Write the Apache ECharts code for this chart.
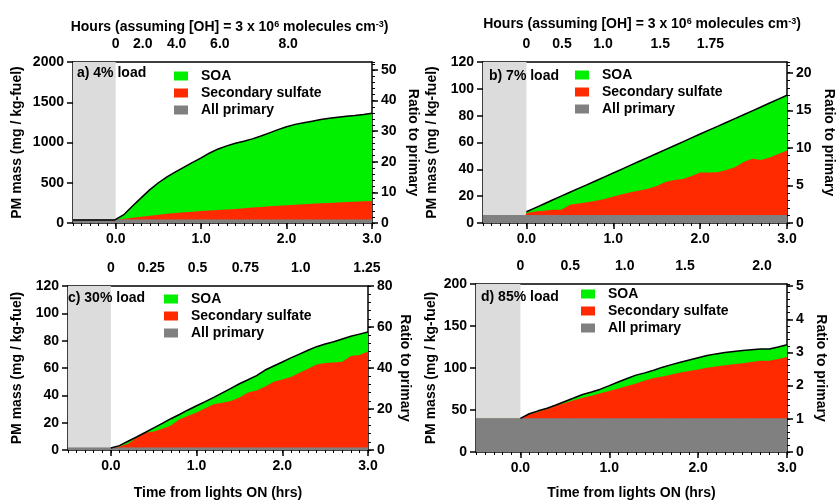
<!DOCTYPE html>
<html>
<head>
<meta charset="utf-8">
<script src="https://cdn.jsdelivr.net/npm/echarts@6/dist/echarts.min.js"></script>
<style>
  html, body { margin: 0; padding: 0; background: #fff; }
  #chart { width: 837px; height: 502px; }
</style>
</head>
<body>
<div id="chart"></div>
<script>
// time from lights ON (hrs), shared by all panels (lights switch on at 0)
const times = [-0.5, -0.01, 0.0, 0.1, 0.2, 0.3, 0.4, 0.5, 0.6, 0.7, 0.8, 0.9, 1.0, 1.1, 1.2, 1.3, 1.4, 1.5,
  1.6, 1.7, 1.8, 1.9, 2.0, 2.1, 2.2, 2.3, 2.4, 2.5, 2.6, 2.7, 2.8, 2.9, 3.0];
const timeTicks = [0, 1, 2, 3];

// a) 4% load
const aPrimary = 38;
const aSulfate = [0, 0, 5, 15, 28, 40, 52, 64, 76, 86, 95, 103, 110, 118, 125, 131, 137, 145,
  153, 161, 170, 177, 183, 188, 194, 200, 206, 212, 218, 222, 226, 232, 236];
const aSoa = [0, 0, 3, 55, 148, 237, 325, 398, 458, 511, 562, 612, 660, 714, 757, 789, 815, 832,
  854, 881, 912, 945, 974, 999, 1013, 1027, 1041, 1050, 1057, 1065, 1071, 1078, 1088];
const aMassMax = 2000;
const aRatioTicks = [0, 10, 20, 30, 40, 50];
const aHourPos = [0, 0.316, 0.713, 1.219, 2.018];
const aHourLbl = ['0', '2.0', '4.0', '6.0', '8.0'];

// b) 7% load
const bPrimary = 5.6;
const bSulfate = [0, 0, 1.8, 2.9, 3.6, 4.3, 4.3, 8.0, 9.0, 9.8, 10.9, 12.2, 14.2, 15.9, 17.4, 18.6, 19.9, 21.9,
  24.9, 26.4, 27.2, 29.4, 32.1, 32.1, 32.2, 33.9, 35.9, 39.9, 42.2, 41.4, 43.3, 45.9, 48.5];
const bSoa = [0, 0, 1.0, 2.8, 5.0, 7.2, 10.1, 9.3, 11.2, 13.2, 15.0, 16.6, 17.5, 18.7, 20.1, 21.8, 23.4, 24.3,
  24.2, 25.6, 27.7, 28.4, 28.6, 31.5, 34.2, 35.4, 36.3, 35.2, 35.8, 39.5, 40.5, 40.8, 41.1];
const bMassMax = 120;
const bRatioTicks = [0, 5, 10, 15, 20];
const bHourPos = [0, 0.41, 0.881, 1.54, 2.119];
const bHourLbl = ['0', '0.5', '1.0', '1.5', '1.75'];

// c) 30% load
const cPrimary = 1.5;
const cSulfate = [0, 0, 0, 1.0, 3.0, 7.5, 11.1, 12.0, 14.0, 16.5, 21.0, 23.5, 26.0, 29.0, 31.9, 33.0, 34.3, 37.0,
  40.5, 42.0, 45.0, 48.5, 50.1, 52.0, 55.0, 58.0, 61.0, 62.1, 62.5, 63.0, 67.3, 68.0, 70.5];
const cSoa = [0, 0, 0, 0.7, 1.9, 0.5, 0.2, 2.7, 4.0, 4.9, 3.5, 4.3, 4.9, 4.9, 5.1, 7.3, 9.3, 10.0,
  9.4, 10.9, 12.0, 11.5, 12.8, 13.9, 13.7, 13.5, 13.1, 14.0, 15.2, 16.7, 14.4, 15.3, 14.4];
const cMassMax = 120;
const cRatioTicks = [0, 20, 40, 60, 80];
const cHourPos = [0, 0.47, 1.012, 1.569, 2.216, 2.988];
const cHourLbl = ['0', '0.25', '0.5', '0.75', '1.0', '1.25'];

// d) 85% load
const dPrimary = 39.5;
const dSulfate = [0, 0, 0.5, 5.0, 8.5, 11.8, 15.5, 18.8, 22.0, 25.0, 27.5, 30.3, 33.0, 36.0, 39.0, 42.0, 45.5, 48.5,
  50.5, 52.8, 55.0, 57.0, 58.8, 60.8, 62.3, 63.8, 65.1, 66.3, 67.6, 69.2, 69.0, 71.3, 73.5];
const dSoa = [0, 0, 0, 1.0, 1.0, 0.7, 1.0, 1.9, 2.8, 4.0, 4.5, 5.0, 6.5, 7.8, 9.0, 10.0, 9.2, 9.3,
  11.0, 11.7, 12.3, 13.0, 13.9, 14.5, 15.0, 15.1, 15.1, 15.0, 14.7, 14.0, 14.0, 14.2, 14.7];
const dMassMax = 200;
const dRatioTicks = [0, 1, 2, 3, 4, 5];
const dHourPos = [0, 0.561, 1.174, 1.852, 2.718];
const dHourLbl = ['0', '0.5', '1.0', '1.5', '2.0'];

const FONT = '"Liberation Sans", Arial, sans-serif';
const GREEN = '#00f000', RED = '#ff2a00', GRAY = '#808080', SHADE = '#dcdcdc';
const HOURS_TITLE = 'Hours (assuming [OH] = 3 x 10{sup|6} molecules cm{sup|-3})';

const panels = [
  { tag: 'a) 4% load', primary: aPrimary, sulfate: aSulfate, soa: aSoa, massMax: aMassMax, massInt: 500,
    ratioTicks: aRatioTicks, ratioMinor: 2, hourPos: aHourPos, hourLbl: aHourLbl, lineFrom: 0,
    box: [73, 62, 299, 161], tagPos: [77, 66], legendPos: [174, 69],
    leftGap: 49, rightGap: 34, topName: true, topGap: 28, bottomName: false },
  { tag: 'b) 7% load', primary: bPrimary, sulfate: bSulfate, soa: bSoa, massMax: bMassMax, massInt: 20,
    ratioTicks: bRatioTicks, ratioMinor: 1, hourPos: bHourPos, hourLbl: bHourLbl, lineFrom: 2,
    box: [483, 62, 305, 161], tagPos: [489, 69], legendPos: [575, 68],
    leftGap: 44, rightGap: 35, topName: true, topGap: 31, bottomName: false },
  { tag: 'c) 30% load', primary: cPrimary, sulfate: cSulfate, soa: cSoa, massMax: cMassMax, massInt: 20,
    ratioTicks: cRatioTicks, ratioMinor: 4, hourPos: cHourPos, hourLbl: cHourLbl, lineFrom: 2,
    box: [68, 286, 300, 164], tagPos: [68, 291], legendPos: [164, 292],
    leftGap: 44, rightGap: 30, topName: false, bottomName: true, bottomGap: 36 },
  { tag: 'd) 85% load', primary: dPrimary, sulfate: dSulfate, soa: dSoa, massMax: dMassMax, massInt: 50,
    ratioTicks: dRatioTicks, ratioMinor: 0.2, hourPos: dHourPos, hourLbl: dHourLbl, lineFrom: 2,
    box: [476, 284, 311, 168], tagPos: [481, 290], legendPos: [581, 287],
    leftGap: 38, rightGap: 27, topName: false, bottomName: true, bottomGap: 34 }
];

const txt = { color: '#000', fontFamily: FONT, fontWeight: 'bold', fontSize: 14 };
const axLine = { show: true, onZero: false, lineStyle: { color: '#000', width: 1.5 } };

const grids = [], xAxes = [], yAxes = [], series = [], legends = [], titles = [];

panels.forEach(function (p, i) {
  const ratioMax = p.massMax / p.primary;
  grids.push({ left: p.box[0], top: p.box[1], width: p.box[2], height: p.box[3] });

  // bottom time axis (major ticks + labels)
  xAxes.push({
    type: 'value', gridIndex: i, position: 'bottom', min: -0.5, max: 3,
    axisLine: axLine,
    axisTick: { customValues: timeTicks, length: 6, lineStyle: { color: '#000', width: 1.5 } },
    axisLabel: Object.assign({ customValues: timeTicks, margin: 9, formatter: v => v.toFixed(1) }, txt),
    splitLine: { show: false },
    name: p.bottomName ? 'Time from lights ON (hrs)' : '', nameLocation: 'middle',
    nameGap: p.bottomGap || 30, nameTextStyle: txt
  });
  // minor time ticks
  xAxes.push({
    type: 'value', gridIndex: i, position: 'bottom', min: -0.5, max: 3, interval: 0.1,
    axisLine: { show: false, onZero: false },
    axisTick: { length: 3, lineStyle: { color: '#000', width: 1 } },
    axisLabel: { show: false }, splitLine: { show: false }
  });
  // top OH-exposure hours axis
  xAxes.push({
    type: 'value', gridIndex: i, position: 'top', min: -0.5, max: 3,
    axisLine: axLine, axisTick: { show: false },
    axisLabel: Object.assign({
      customValues: p.hourPos, margin: 11,
      formatter: function (v) {
        for (let k = 0; k < p.hourPos.length; k++) {
          if (Math.abs(p.hourPos[k] - v) < 1e-6) return p.hourLbl[k];
        }
        return '';
      }
    }, txt),
    splitLine: { show: false },
    name: p.topName ? HOURS_TITLE : '', nameLocation: 'middle', nameGap: p.topGap || 30,
    nameTextStyle: Object.assign({
      padding: [0, 0, 0, 14],
      rich: { sup: { fontSize: 9, fontWeight: 'bold', fontFamily: FONT, color: '#000', verticalAlign: 'top', lineHeight: 9 } }
    }, txt)
  });

  // left mass axis
  yAxes.push({
    type: 'value', gridIndex: i, position: 'left', min: 0, max: p.massMax, interval: p.massInt,
    axisLine: axLine,
    axisTick: { length: 6, lineStyle: { color: '#000', width: 1.5 } },
    axisLabel: Object.assign({ margin: 9, formatter: v => String(v) }, txt),
    splitLine: { show: false },
    name: 'PM mass (mg / kg-fuel)', nameLocation: 'middle', nameGap: p.leftGap, nameTextStyle: txt
  });
  // right ratio axis
  yAxes.push({
    type: 'value', gridIndex: i, position: 'right', min: 0, max: ratioMax,
    axisLine: axLine,
    axisTick: { customValues: p.ratioTicks, length: 6, lineStyle: { color: '#000', width: 1.5 } },
    axisLabel: Object.assign({ customValues: p.ratioTicks, margin: 9, formatter: v => String(v) }, txt),
    splitLine: { show: false },
    name: 'Ratio to primary', nameLocation: 'middle', nameRotate: -90, nameGap: p.rightGap, nameTextStyle: txt
  });
  // right minor ticks
  yAxes.push({
    type: 'value', gridIndex: i, position: 'right', min: 0, max: ratioMax, interval: p.ratioMinor,
    axisLine: { show: false, onZero: false },
    axisTick: { length: 3, lineStyle: { color: '#000', width: 1 } },
    axisLabel: { show: false }, splitLine: { show: false }
  });

  // cumulative levels: primary, primary + sulfate, primary + sulfate + SOA
  const lvlPrim = times.map(t => [t, p.primary]);
  const lvlSulf = times.map((t, k) => [t, p.primary + p.sulfate[k]]);
  const lvlSoa = times.map((t, k) => [t, p.primary + p.sulfate[k] + p.soa[k]]);

  const base = { type: 'line', xAxisIndex: 3 * i, yAxisIndex: 3 * i,
    symbol: 'none', showSymbol: false, lineStyle: { width: 0 }, silent: true };

  series.push(Object.assign({}, base, {
    name: 'SOA', data: lvlSoa, z: 2,
    itemStyle: { color: GREEN }, areaStyle: { color: GREEN, opacity: 1 },
    markArea: { silent: true, itemStyle: { color: SHADE }, data: [[{ xAxis: -0.5 }, { xAxis: 0 }]] }
  }));
  series.push(Object.assign({}, base, {
    name: 'Secondary sulfate', data: lvlSulf, z: 3,
    itemStyle: { color: RED }, areaStyle: { color: RED, opacity: 1 }
  }));
  series.push(Object.assign({}, base, {
    name: 'All primary', data: lvlPrim, z: 4,
    lineStyle: { width: 1, color: GRAY },
    itemStyle: { color: GRAY }, areaStyle: { color: GRAY, opacity: 1 }
  }));
  series.push({
    name: 'total', type: 'line', xAxisIndex: 3 * i, yAxisIndex: 3 * i, symbol: 'none', z: 5, silent: true,
    data: lvlSoa.slice(p.lineFrom),
    lineStyle: { color: '#000', width: 1.5 }
  });

  legends.push({
    left: p.legendPos[0], top: p.legendPos[1], orient: 'vertical', padding: 0,
    itemWidth: 14, itemHeight: 9, itemGap: 3, icon: 'rect', selectedMode: false,
    data: ['SOA', 'Secondary sulfate', 'All primary'],
    itemStyle: { borderWidth: 0 },
    textStyle: Object.assign({ padding: [0, 0, 0, 8] }, txt)
  });
  titles.push({ text: p.tag, left: p.tagPos[0], top: p.tagPos[1], padding: 0, textStyle: txt });
});

const chart = echarts.init(document.getElementById('chart'));
chart.setOption({
  backgroundColor: '#fff',
  animation: false,
  title: titles,
  legend: legends,
  grid: grids,
  xAxis: xAxes,
  yAxis: yAxes,
  series: series
});
</script>
</body>
</html>
